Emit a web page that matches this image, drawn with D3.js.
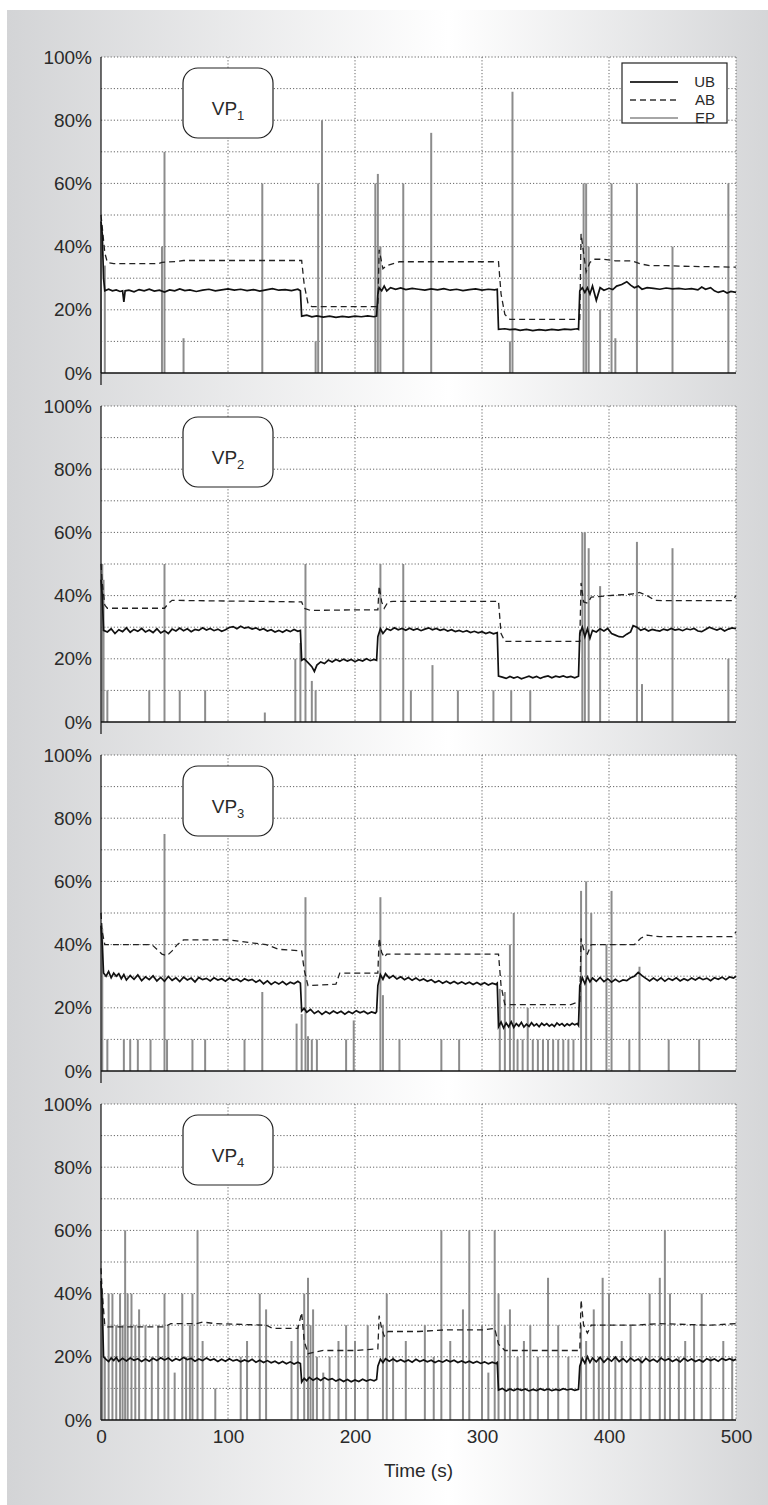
<!DOCTYPE html>
<html>
<head>
<meta charset="utf-8">
<script src="https://cdn.jsdelivr.net/npm/d3@7"></script>
<style>
  body { margin: 0; background: #fff; }
  text { font-family: "Liberation Sans", Arial, sans-serif; fill: #2a2a2a; }
</style>
</head>
<body>
<svg id="chart" width="768" height="1505"></svg>
<script>
// panel names (VP + subscript)
const panels = ["1", "2", "3", "4"];
const yTicks = [0, 20, 40, 60, 80, 100];
const xTicks = [0, 100, 200, 300, 400, 500];
const legendLabels = ["UB", "AB", "EP"];

// UB: [time s, percent]
const ub1 = [[0,48],[1,44],[2,30],[3,26],[6,26.5],[9,26],[12,26.3],[15,25.8],[17,26],[18,22.5],[19,26],[22,26.2],[26,25.7],[30,26.4],[34,26],[38,26.5],[42,25.9],[46,26.2],[50,25.6],[54,26.3],[58,26],[62,26.6],[66,26.1],[70,26.3],[75,25.8],[80,26.2],[85,26.5],[90,26],[95,26.3],[100,26.6],[105,26.2],[110,26.5],[115,26.1],[120,26.4],[125,25.9],[130,26.3],[135,26.7],[140,26.2],[145,26.4],[150,26.1],[155,26.5],[157,26],[158,18],[162,18.3],[166,17.8],[170,18.1],[175,17.7],[180,18],[185,17.6],[190,17.9],[195,17.7],[200,18],[205,17.8],[210,18.1],[215,17.8],[217,18],[218,25],[219,27],[221,26],[223,27.5],[225,26],[228,27],[232,26.5],[236,26.9],[240,26.4],[245,26.8],[250,26.5],[255,26.2],[260,26.6],[265,26.3],[270,26.7],[275,26.2],[280,26.5],[285,26.1],[290,26.4],[295,26.6],[300,26.2],[305,26.5],[310,26.3],[312,26.5],[313,13.8],[318,14],[322,13.7],[326,13.9],[330,13.5],[335,13.8],[340,13.4],[345,13.7],[350,13.5],[355,13.8],[360,13.6],[365,13.9],[370,13.7],[375,14],[376,13.8],[377,26],[379,27],[381,25.5],[383,27],[385,25],[387,27.5],[390,23],[393,27],[396,26.2],[400,26.8],[403,26.4],[406,27.5],[410,28],[414,28.9],[417,27.8],[420,27],[423,27.5],[426,26.5],[430,27],[435,26.8],[440,26.5],[445,26.9],[450,26.6],[455,26.8],[460,26.5],[465,26.7],[470,26.3],[473,27.2],[476,26.5],[480,27],[483,26],[486,25.5],[490,26],[493,25.3],[496,25.8],[500,25.5]];
const ub2 = [[0,45],[1,40],[2,29],[5,28.5],[8,29.5],[11,28],[14,29.2],[17,28.6],[20,29.8],[23,28.4],[26,29.3],[29,28.7],[32,29.6],[35,28.5],[38,29.1],[41,28.3],[44,29.5],[47,28.2],[50,28.9],[53,28],[56,29.4],[59,28.8],[62,29.7],[65,28.9],[68,29.5],[71,28.6],[74,29.3],[77,29],[80,29.8],[83,29.1],[86,29.6],[89,28.9],[92,29.4],[95,28.7],[98,29.2],[101,29.9],[104,30.2],[107,29.5],[110,30.3],[113,29.7],[116,30],[119,29.4],[122,29.8],[125,29.1],[128,29.5],[131,28.8],[134,29.2],[137,28.5],[140,29],[143,28.4],[146,29.1],[149,28.6],[152,29.3],[155,28.7],[157,29],[158,19.5],[160,20],[163,18.8],[166,17.5],[168,16],[170,18],[173,19],[176,18.5],[179,19.6],[182,19],[185,19.8],[188,19.2],[191,19.9],[194,19.3],[197,19.8],[200,19.1],[203,19.7],[206,19.3],[209,20],[212,19.4],[215,19.8],[217,19.5],[218,27],[220,29.5],[222,28],[225,29.5],[228,29],[231,29.8],[234,29.2],[237,29.6],[240,29],[243,29.7],[246,29.1],[249,29.5],[252,28.9],[255,29.4],[258,29.8],[261,29.2],[264,29.6],[267,29],[270,29.4],[273,28.8],[276,29.2],[279,28.6],[282,29],[285,28.5],[288,28.9],[291,28.3],[294,28.7],[297,28.2],[300,28.6],[303,28],[306,28.4],[309,27.9],[312,28.3],[313,14.5],[316,14.2],[319,13.8],[322,14.4],[325,13.9],[328,14.3],[331,13.7],[334,14.1],[337,14.5],[340,14],[343,14.4],[346,13.8],[349,14.3],[352,14.6],[355,14],[358,14.5],[361,14.2],[364,14.6],[367,14.1],[370,14.4],[373,14],[376,14.5],[377,28],[379,30],[381,27],[383,29.5],[385,26.5],[387,29],[390,28.5],[393,29.5],[396,28.8],[399,29.6],[402,28],[405,27.5],[408,27],[411,26.9],[414,27.8],[417,28.5],[419,30.5],[422,30],[425,29],[428,29.5],[431,28.8],[434,29.3],[437,29],[440,28.8],[443,29.4],[446,29],[449,29.6],[452,29.1],[455,29.4],[458,28.9],[461,29.5],[464,29.2],[467,29.6],[470,28.8],[473,28.6],[476,29.3],[479,30],[482,29.5],[485,29.1],[488,29.6],[491,28.8],[494,29.4],[497,29.8],[500,29.5]];
const ub3 = [[0,46],[1,40],[2,31],[4,30],[6,31.5],[8,29.5],[10,31],[12,30],[14,30.8],[16,29.2],[18,30.5],[20,28.8],[23,30.2],[26,29],[29,30.4],[32,28.6],[35,29.8],[38,28.9],[41,30.1],[44,28.5],[47,29.6],[50,28.4],[53,29.9],[56,28.7],[59,29.5],[62,28.3],[65,29.7],[68,28.8],[71,29.4],[74,28.2],[77,29.6],[80,28.9],[83,29.3],[86,28.5],[89,29.5],[92,28.8],[95,29.2],[98,28.4],[101,29.4],[104,28.7],[107,29.1],[110,28.3],[113,29.2],[116,28.6],[119,29],[122,28.1],[125,28.8],[128,27.6],[131,28.5],[134,27.4],[137,28.2],[140,27.5],[143,28.3],[146,27.3],[149,28.1],[152,27.6],[155,28.4],[157,27.8],[158,19],[160,19.8],[162,18.6],[165,19.5],[168,18.2],[171,19],[174,17.9],[177,18.8],[180,18.1],[183,19],[186,18.3],[189,18.9],[192,18],[195,18.8],[198,18.2],[201,19.1],[204,18.4],[207,18.9],[210,18.1],[213,18.7],[216,18.3],[217,18.8],[218,27],[220,30.5],[222,29],[224,30.8],[227,29.4],[230,30.2],[233,29.1],[236,29.8],[239,28.9],[242,29.6],[245,28.7],[248,29.4],[251,28.6],[254,29.1],[257,28.4],[260,28.9],[263,28],[266,28.6],[269,27.8],[272,28.4],[275,27.7],[278,28.3],[281,27.6],[284,28.2],[287,27.5],[290,28.1],[293,27.4],[296,28],[299,27.3],[302,27.9],[305,27.2],[308,27.8],[311,27.4],[312,27.8],[313,14],[315,15.5],[317,13.6],[319,15.2],[321,14],[323,15.6],[325,13.8],[327,15],[329,14.2],[331,15.4],[333,13.9],[335,14.8],[337,14.1],[339,15.3],[341,14.3],[343,14.9],[345,14],[347,15.1],[349,14.4],[351,15],[353,14.2],[355,14.8],[357,14.1],[359,15.2],[361,14.5],[363,15],[365,14.2],[367,14.9],[369,14.4],[371,15.1],[373,14.6],[375,15],[376,14.4],[377,27],[379,29.5],[381,27.6],[383,29.8],[385,28.2],[387,29.4],[390,28.4],[393,29.6],[396,28.3],[399,29.2],[402,28.1],[405,29],[408,28.2],[411,28.8],[414,28.6],[417,29.5],[420,30],[423,31.2],[426,30.2],[429,29.3],[432,28.5],[435,29.4],[438,28.6],[441,29.5],[444,28.4],[447,29.3],[450,28.7],[453,29.5],[456,28.5],[459,29.2],[462,28.6],[465,29.4],[468,28.8],[471,29.6],[474,28.9],[477,29.4],[480,28.6],[483,29.5],[486,29],[489,29.7],[492,28.9],[495,29.8],[498,29.4],[500,30]];
const ub4 = [[0,44],[1,36],[2,20],[4,19.2],[6,18.5],[8,19.6],[10,18.8],[12,19.8],[14,18.6],[17,19.5],[20,18.7],[23,19.6],[26,18.9],[29,19.4],[32,18.5],[35,19.3],[38,18.6],[41,19.5],[44,18.8],[47,19.7],[50,19],[53,19.6],[56,18.7],[59,19.4],[62,18.9],[65,19.8],[68,19.1],[71,19.5],[74,18.6],[77,19.3],[80,18.8],[83,19.6],[86,18.9],[89,19.3],[92,18.5],[95,19.2],[98,18.6],[101,19.4],[104,18.7],[107,19.1],[110,18.4],[113,19],[116,18.5],[119,19.2],[122,18.3],[125,18.9],[128,18.2],[131,18.8],[134,18.1],[137,18.6],[140,17.9],[143,18.5],[146,17.8],[149,18.4],[152,17.7],[155,18.3],[157,17.9],[158,12],[160,13.2],[162,12.4],[164,13.5],[167,12.6],[170,13.3],[173,12.5],[176,13.4],[179,12.7],[182,13.1],[185,12.3],[188,12.9],[191,12.2],[194,12.8],[197,12.1],[200,12.7],[203,12.2],[206,12.9],[209,12.3],[212,12.8],[215,12.4],[217,12.8],[218,17],[220,19.2],[222,18.2],[224,19.4],[227,18.6],[230,19.3],[233,18.5],[236,19.1],[239,18.4],[242,19],[245,18.3],[248,19.2],[251,18.5],[254,19],[257,18.4],[260,18.9],[263,18.2],[266,18.8],[269,18.3],[272,19],[275,18.4],[278,18.9],[281,18.2],[284,18.7],[287,18.1],[290,18.6],[293,18],[296,18.5],[299,17.9],[302,18.4],[305,17.8],[308,18.3],[311,17.9],[312,18.2],[313,9.5],[316,10],[319,9.2],[322,9.8],[325,9.3],[328,9.9],[331,9.4],[334,9.8],[337,9.2],[340,9.7],[343,9.3],[346,9.9],[349,9.4],[352,9.8],[355,9.3],[358,9.7],[361,9.4],[364,9.9],[367,9.5],[370,9.8],[373,9.4],[376,9.7],[377,17],[379,19.5],[381,18],[383,20],[385,18.2],[387,19.6],[390,18.4],[393,19.8],[396,18.3],[399,19.5],[402,18.6],[405,19.9],[408,18.5],[411,19.4],[414,18.3],[417,19.6],[420,18.7],[423,19.3],[426,18.2],[429,19.5],[432,18.6],[435,19.2],[438,18.4],[441,19.6],[444,18.8],[447,19.4],[450,18.5],[453,19.2],[456,18.4],[459,19.5],[462,18.7],[465,19.3],[468,18.5],[471,19.1],[474,18.4],[477,19.4],[480,18.8],[483,19.3],[486,18.6],[489,19.5],[492,18.9],[495,19.4],[498,18.8],[500,19.3]];

// AB: [time s, percent]
const ab1 = [[0,50],[1,46],[3,38],[5,35],[10,34.6],[45,34.6],[48,35],[60,35.3],[65,35.6],[158,35.6],[160,28],[163,22],[166,21],[218,21],[219,39],[221,35],[222,33],[225,34],[235,35.2],[313,35.2],[315,25],[318,18.5],[322,17],[377,17],[378,44],[380,38],[382,32],[385,35],[388,36],[395,36],[405,35.5],[418,35.5],[425,34.5],[432,34],[445,34],[455,33.8],[500,33.5]];
const ab2 = [[0,50],[1,44],[3,37],[5,36],[50,36],[53,37.5],[56,38.5],[158,38],[160,36],[165,35.3],[200,35.5],[218,35.5],[219,43],[221,38],[223,36],[226,38],[230,38.2],[313,38.2],[315,28],[318,25.5],[377,25.5],[378,44],[380,38],[383,37.6],[386,39.5],[400,40],[418,40.5],[424,41],[430,40],[436,38.5],[442,38.4],[497,38.4],[500,40]];
const ab3 = [[0,50],[1,44],[3,40],[5,40],[40,40],[44,38.5],[48,37],[52,36.5],[56,38],[60,40],[65,41.5],[100,41.5],[110,41],[120,40.5],[130,40],[140,38.5],[158,38],[160,32],[163,27],[185,27.5],[188,31],[218,31],[219,42],[221,37.5],[223,36],[225,37],[313,37],[315,27],[318,21],[370,21],[377,22],[378,42],[380,38.5],[383,37],[386,40],[420,40],[425,42],[430,43],[440,42.5],[497,42.5],[500,44]];
const ab4 = [[0,48],[1,40],[3,30],[5,29.5],[50,29.5],[55,30.5],[75,30.5],[80,31],[90,30.5],[130,30],[135,29],[155,29],[158,34],[160,25],[163,21],[175,22],[200,22],[218,22.5],[219,33],[221,29],[223,26.5],[226,28],[250,28],[270,28.5],[300,28.5],[310,29],[313,24],[318,22],[330,22],[377,22],[378,38],[380,30],[383,27.5],[386,30],[420,30],[440,30.5],[480,30],[500,30.5]];

// EP spikes: [time s, percent]
const ep1 = [[0,47],[3,34],[48,40],[50,70],[65,11],[127,60],[169,10],[171,60],[174,80],[216,60],[218,63],[220,40],[238,60],[260,76],[322,10],[324,89],[380,60],[382,60],[384,40],[393,20],[402,60],[405,11],[422,60],[450,40],[494,60]];
const ep2 = [[1,50],[2,45],[5,10],[38,10],[50,50],[62,10],[82,10],[129,3],[153,20],[157,25],[161,50],[166,13],[169,10],[220,50],[238,50],[244,10],[261,18],[281,10],[309,10],[323,10],[338,10],[379,60],[381,60],[384,55],[393,43],[422,57],[426,12],[450,55],[494,20]];
const ep3 = [[1,45],[5,10],[18,10],[23,10],[29,10],[39,10],[50,75],[52,10],[72,10],[82,10],[113,10],[127,25],[154,15],[158,18],[161,55],[163,11],[166,10],[170,10],[193,10],[199,16],[220,55],[222,24],[235,10],[268,10],[282,10],[314,26],[318,25],[322,40],[325,50],[328,10],[332,10],[336,20],[340,10],[344,10],[348,10],[352,10],[356,10],[360,10],[364,10],[368,10],[372,10],[378,57],[382,60],[386,50],[398,40],[402,57],[416,10],[424,33],[447,10],[471,10]];
const ep4 = [[1,40],[3,20],[6,40],[9,40],[12,30],[15,40],[17,30],[19,60],[21,40],[24,40],[27,30],[30,35],[35,30],[40,20],[45,30],[50,40],[53,30],[58,15],[64,40],[67,20],[70,30],[72,40],[76,60],[80,25],[90,10],[110,20],[115,25],[125,40],[130,35],[150,25],[155,30],[160,40],[163,45],[165,30],[167,35],[170,20],[175,15],[180,20],[187,25],[193,30],[200,25],[210,30],[222,30],[225,40],[230,20],[240,25],[255,30],[262,20],[268,60],[275,25],[285,35],[290,60],[300,30],[305,15],[310,60],[313,40],[318,30],[322,35],[328,20],[333,25],[338,30],[344,20],[352,45],[360,30],[368,20],[378,30],[382,25],[388,35],[392,20],[395,45],[400,40],[405,20],[410,25],[417,30],[425,20],[432,40],[440,45],[444,60],[448,40],[455,20],[460,25],[467,30],[473,40],[480,20],[490,25],[497,20]];

const ubData = [ub1, ub2, ub3, ub4];
const abData = [ab1, ab2, ab3, ab4];
const epData = [ep1, ep2, ep3, ep4];

const svg = d3.select("#chart");
const width = +svg.attr("width");
const height = +svg.attr("height");

const left = 101, right = 736;
const panelTops = [57, 406, 755, 1104];
const panelH = 316;

// background gradient
const grad = svg.append("defs").append("linearGradient").attr("id", "bg");
grad.append("stop").attr("offset", "0%").attr("stop-color", "#d3d4d6");
grad.append("stop").attr("offset", "58%").attr("stop-color", "#ffffff");
grad.append("stop").attr("offset", "100%").attr("stop-color", "#d5d6d8");
svg.append("rect").attr("x", 7).attr("y", 10).attr("width", width - 7).attr("height", height - 10)
    .attr("fill", "url(#bg)");

const x = d3.scaleLinear().domain([0, 500]).range([left, right]);

panels.forEach((p, i) => {
    const top = panelTops[i];
    const y = d3.scaleLinear().domain([0, 100]).range([top + panelH, top]);
    const g = svg.append("g");

    g.append("rect").attr("x", left).attr("y", top)
        .attr("width", right - left).attr("height", panelH).attr("fill", "#fff");

    // grid
    g.selectAll(".hgrid").data(d3.range(10, 101, 10)).enter().append("line")
        .attr("x1", left).attr("x2", right)
        .attr("y1", d => y(d)).attr("y2", d => y(d))
        .attr("stroke", "#666").attr("stroke-width", 1).attr("stroke-dasharray", "1.2,2");
    g.selectAll(".vgrid").data(xTicks.slice(1)).enter().append("line")
        .attr("x1", d => x(d)).attr("x2", d => x(d))
        .attr("y1", top).attr("y2", top + panelH)
        .attr("stroke", "#666").attr("stroke-width", 1).attr("stroke-dasharray", "1.2,2");

    // EP spikes
    g.selectAll(".ep").data(epData[i]).enter().append("line")
        .attr("x1", d => x(d[0])).attr("x2", d => x(d[0]))
        .attr("y1", y(0)).attr("y2", d => y(d[1]))
        .attr("stroke", "#8c8c8c").attr("stroke-width", 2);

    const line = d3.line().x(d => x(d[0])).y(d => y(d[1]));

    g.append("path").datum(abData[i]).attr("d", line)
        .attr("fill", "none").attr("stroke", "#222").attr("stroke-width", 1.3)
        .attr("stroke-dasharray", "6,4");
    g.append("path").datum(ubData[i]).attr("d", line)
        .attr("fill", "none").attr("stroke", "#111").attr("stroke-width", 1.7);

    // axes
    const yAxis = g.append("g").attr("transform", `translate(${left},0)`)
        .call(d3.axisLeft(y).tickValues(yTicks).tickFormat(d => d + "%").tickSize(0).tickPadding(9));
    yAxis.select(".domain").remove();
    yAxis.selectAll("text").attr("font-size", 19).attr("font-family", "Liberation Sans, Arial, sans-serif")
        .attr("fill", "#2a2a2a");

    g.append("line").attr("x1", left).attr("x2", left).attr("y1", top)
        .attr("y2", top + panelH + (i < 3 ? 12 : 0)).attr("stroke", "#111").attr("stroke-width", 1.2);
    g.append("line").attr("x1", left).attr("x2", right).attr("y1", y(0)).attr("y2", y(0))
        .attr("stroke", "#111").attr("stroke-width", 1.4);

    // VP label box
    g.append("rect").attr("x", 183).attr("y", top + 11).attr("width", 90).attr("height", 70)
        .attr("rx", 15).attr("fill", "#fff").attr("stroke", "#222").attr("stroke-width", 1.2);
    const lbl = g.append("text").attr("x", 228).attr("y", top + 58)
        .attr("text-anchor", "middle").attr("font-size", 19);
    lbl.append("tspan").text("VP");
    lbl.append("tspan").attr("font-size", 13).attr("dy", 5).text(p);

    if (i === 3) {
        const xAxis = g.append("g").attr("transform", `translate(0,${top + panelH})`)
            .call(d3.axisBottom(x).tickValues(xTicks).tickSize(0).tickPadding(10));
        xAxis.select(".domain").remove();
        xAxis.selectAll("text").attr("font-size", 19).attr("font-family", "Liberation Sans, Arial, sans-serif")
            .attr("fill", "#2a2a2a");
    }
});

// x axis title
svg.append("text").attr("x", (left + right) / 2).attr("y", 1477)
    .attr("text-anchor", "middle").attr("font-size", 19).text("Time (s)");

// legend
const lg = svg.append("g");
lg.append("rect").attr("x", 622).attr("y", 63).attr("width", 105).attr("height", 60)
    .attr("fill", "#fff").attr("stroke", "#222").attr("stroke-width", 1.2);
const legendStyles = [
    { color: "#333", w: 1.8, dash: null },
    { color: "#333", w: 1.3, dash: "6,4" },
    { color: "#888", w: 1.3, dash: null }
];
legendLabels.forEach((l, k) => {
    const ly = 82 + k * 18;
    lg.append("line").attr("x1", 630).attr("x2", 678).attr("y1", ly).attr("y2", ly)
        .attr("stroke", legendStyles[k].color).attr("stroke-width", legendStyles[k].w)
        .attr("stroke-dasharray", legendStyles[k].dash);
    lg.append("text").attr("x", 715).attr("y", ly + 5).attr("text-anchor", "end")
        .attr("font-size", 15).text(l);
});
</script>
</body>
</html>
